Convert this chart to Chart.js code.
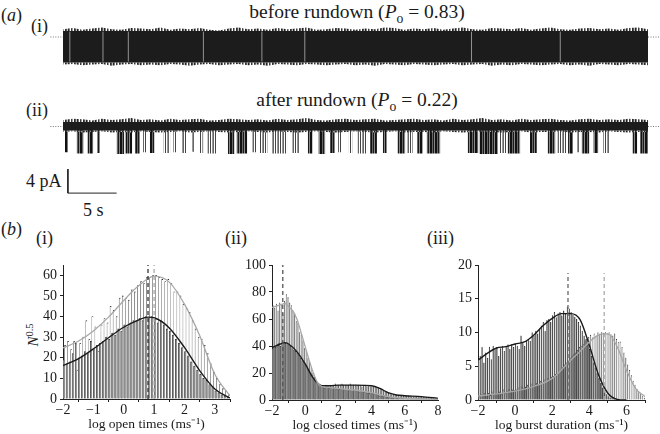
<!DOCTYPE html>
<html><head><meta charset="utf-8">
<script src="https://cdn.jsdelivr.net/npm/chart.js@4.4.0/dist/chart.umd.min.js"></script>
<style>
body{margin:0;width:660px;height:434px;position:relative;background:#fff;font-family:"Liberation Serif","Times New Roman",serif;overflow:hidden}
.t{position:absolute;white-space:nowrap;color:#1a1a1a;line-height:1}
canvas{position:absolute}
sub{font-size:70%;vertical-align:-0.35em}
sup{font-size:70%;vertical-align:0.45em}
</style></head><body>
<div class="t" style="left:1px;top:6px;font-size:18px">(<i>a</i>)</div>
<div class="t" style="left:31px;top:17px;font-size:18px">(i)</div>
<div class="t" style="left:357px;top:2px;font-size:19.5px;transform:translateX(-50%)">before rundown (<i>P</i><sub>o</sub> = 0.83)</div>
<div class="t" style="left:26px;top:101px;font-size:18px">(ii)</div>
<div class="t" style="left:357px;top:90px;font-size:19.5px;transform:translateX(-50%)">after rundown (<i>P</i><sub>o</sub> = 0.22)</div>
<div class="t" style="left:26px;top:172px;font-size:18px">4 pA</div>
<div class="t" style="left:83px;top:201px;font-size:18px">5 s</div>
<div class="t" style="left:1px;top:220px;font-size:18px">(<i>b</i>)</div>
<div class="t" style="left:36px;top:229px;font-size:18px">(i)</div>
<div class="t" style="left:225px;top:229px;font-size:18px">(ii)</div>
<div class="t" style="left:427px;top:229px;font-size:18px">(iii)</div>
<div class="t" style="left:33px;top:335px;font-size:15px;transform:translate(-50%,-50%) rotate(-90deg)"><i>N</i><sup>0.5</sup></div>

<canvas id="trace1"></canvas>
<canvas id="trace2"></canvas>
<canvas id="h1"></canvas>
<canvas id="h2"></canvas>
<canvas id="h3"></canvas>

<script>
// ---------------- DATA ----------------
// (a) current traces: noise envelope sampled every second (s), current in pA
const traceSampleStep = 1;
const traceICoreTop = 1.0, traceICoreBottom = -4.25;
const traceIUpper = [1.3,1.5,1.2,1.4,1.6,1.3,1.2,1.5,1.4,1.3,1.6,1.2,1.4,1.3,1.5,1.2,1.1,1.4,1.6,1.3,1.4,1.2,1.5,1.3,1.4,1.6,1.2,1.3,1.5,1.4,1.2,1.4,1.3,1.6,1.5,1.2,1.4,1.3,1.5,1.2,1.4,1.6,1.3,1.2,1.5,1.4,1.3,1.5,1.2,1.4,1.6,1.3,1.2,1.4,1.5,1.3,1.4,1.2,1.5,1.6,1.3];
const traceILower = [-4.6,-4.5,-4.7,-4.6,-4.5,-4.8,-4.6,-4.5,-4.7,-4.6,-4.7,-4.5,-4.6,-4.8,-4.6,-4.5,-4.7,-4.6,-4.5,-4.7,-4.6,-4.8,-4.5,-4.6,-4.7,-4.5,-4.6,-4.7,-4.6,-4.5,-4.7,-4.6,-4.8,-4.5,-4.6,-4.7,-4.5,-4.6,-4.7,-4.6,-4.5,-4.7,-4.6,-4.5,-4.8,-4.6,-4.7,-4.5,-4.6,-4.7,-4.6,-4.5,-4.7,-4.6,-4.8,-4.5,-4.6,-4.7,-4.5,-4.6,-4.7];
const traceIBriefClosures = [0.7,4.1,6.7,14.4,20.4,24.8,41.9,51.0];
const traceIICoreTop = 0.75, traceIICoreBottom = -0.65;
const traceIIUpper = [1.1,1.3,1.2,1.0,1.3,1.1,1.2,1.4,1.1,1.2,1.0,1.3,1.1,1.2,1.3,1.0,1.1,1.3,1.2,1.1,1.2,1.0,1.3,1.1,1.2,1.4,1.1,1.0,1.2,1.3,1.1,1.2,1.3,1.0,1.1,1.2,1.3,1.1,1.2,1.0,1.3,1.1,1.2,1.4,1.1,1.2,1.0,1.3,1.1,1.2,1.3,1.1,1.0,1.2,1.3,1.1,1.2,1.1,1.3,1.2,1.1];
const traceIILower = [-0.9,-0.8,-1.0,-0.9,-0.8,-1.0,-0.9,-1.0,-0.8,-0.9,-1.0,-0.9,-0.8,-1.0,-0.9,-0.8,-0.9,-1.0,-0.9,-0.8,-0.9,-1.0,-0.8,-0.9,-1.0,-0.9,-0.8,-0.9,-1.0,-0.9,-0.8,-0.9,-1.0,-0.9,-0.8,-1.0,-0.9,-0.9,-1.0,-0.8,-0.9,-1.0,-0.9,-0.8,-0.9,-1.0,-0.9,-0.8,-1.0,-0.9,-0.9,-0.8,-1.0,-0.9,-0.9,-1.0,-0.8,-0.9,-1.0,-0.9,-0.9];
// bursts of openings after rundown (s)
const burstStart = [0.2,1.4,2.5,3.5,5.5,6.4,7.4,8.2,8.9,10.3,11.3,12.2,13.2,14.0,14.8,16.9,17.8,19.4,20.2,21.4,23.5,25.1,26.2,27.4,28.2,29.3,30.2,31.5,32.8,34.3,35.3,36.3,37.3,41.5,42.7,44.8,45.6,47.9,49.7,50.7,51.8,52.7,53.2,54.4,55.4,58.4,59.2];
const burstEnd   = [0.5,2.1,3.1,3.8,6.3,7.1,7.9,8.6,9.4,11.0,11.7,12.7,13.5,14.4,15.8,17.6,18.9,19.9,21.0,23.0,24.3,25.6,26.9,27.9,28.6,29.7,31.2,32.2,33.2,35.1,35.9,36.9,38.7,42.6,44.6,45.5,46.9,48.6,50.5,51.7,52.3,53.0,54.0,54.9,56.1,58.9,60.0];
const burstDepth = [-4.3,-4.5,-4.5,-4.4,-4.6,-4.5,-4.5,-4.3,-4.4,-4.4,-4.3,-4.4,-4.2,-4.4,-4.5,-4.6,-4.5,-4.3,-4.4,-4.5,-4.4,-4.5,-4.6,-4.4,-4.3,-4.4,-4.5,-4.5,-4.4,-4.5,-4.4,-4.5,-4.5,-4.4,-4.6,-4.4,-4.5,-4.4,-4.5,-4.4,-4.5,-4.3,-4.5,-4.4,-4.4,-4.5,-4.5];
const burstDense = [1,1,1,1,1,1,1,0,1,0,0,0,0,0,0,1,1,0,0,0,0,1,1,1,0,0,0,1,1,1,0,1,1,1,1,0,1,1,1,0,1,0,1,1,0,1,1];
const scaleBarSeconds = 5, scaleBarPA = 4;

// (b)(i) log open times, bins of 0.1 from -2
const openBinStart = -2, openBinWidth = 0.1;
const openBefore = [26,28,24,28,14,27,30,38,29,40,35,23,36,39,37,45,43,40,49,50,49,48,53,52,55,57,56,59,59,60,60,59,58,57,58,56,52,52,50,46,44,42,38,34,30,29,26,22,17,13,10,7,5,4,2];
const openAfter  = [19,17,18,22,27,20,21,23,22,28,24,26,27,28,30,29,32,31,34,33,36,35,37,38,38,39,38,40,39,40,39,37,38,36,34,33,31,29,27,25,23,21,18,16,14,12,10,9,7,6,4,3,2,1.5,1];
const openBeforeFitX = [-2,-1.5,-1,-0.5,0,0.5,1,1.5,2,2.5,3,3.5];
const openBeforeFitY = [24.8,28,33,39.7,47.8,55,59.6,56.7,46,30.8,12,1.5];
const openAfterFitX = [-2,-1.5,-1,-0.5,0,0.5,0.8,1,1.5,2,2.5,3,3.5];
const openAfterFitY = [16.2,19.5,24.3,29.7,34.8,38.4,39.7,39.4,34.5,25,13.8,4.9,0.5];
const openPeakAfter = 0.8, openPeakBefore = 1.0;

// (b)(ii) log closed times
const closedBinStart = -2, closedBinWidth = 0.1;
const closedBefore = [70,68,71,66,72,70,64,73,78,76,72,70,66,64,58,57,50,48,44,38,36,31,28,24,20,17,14,12,10,10,
  10,9,10,9,9,9,8,9,8,8,8,8,8,7,8,7,7,8,7,7,7,7,6,7,6,6,6,5,5,5,5,4,4,4,3,3,3,3,2,2,2,2,2,2,2,1.5,1.5,1.5,1.5,1,
  1,1,1,1,1,1,1,1,1,1,0.5,1,0.5,0.5,1,0.5,0.5,0.5,0.5,0.5];
const closedAfter = [38,40,39,41,42,40,43,42,42,41,41,40,38,37,36,35,33,31,29,28,26,24,22,20,18,16,14,13,12,11,
  11,10,11,11,10,11,11,11,12,11,11,11,12,11,11,11,11,12,11,11,11,11,11,11,10,11,11,10,10,10,10,10,10,9,9,8,8,7,6,6,5,5,4,4,4,3.5,3.5,3,3,3,
  3,3,3,3,2.5,2.5,2.5,2.5,2.5,2.5,2.5,2,2,2,2,2,1.5,1.5,1.5,1];
const closedBeforeFitX = [-2,-1.5,-1.2,-1,-0.75,-0.5,-0.25,0,0.25,0.5,0.75,1,1.5,2,3,4,4.5,5,6,7,8];
const closedBeforeFitY = [68.6,70.5,71.5,69,66,60,50,39.5,29,19.8,12.5,10,9.2,8.4,7.4,5.5,4,2.5,1.3,0.8,0.5];
const closedAfterFitX = [-2,-1.5,-1.25,-1,-0.5,0,0.5,1,1.5,2,3,4,4.5,5,5.5,6,7,8];
const closedAfterFitY = [38.8,41.5,42.5,41.5,35.8,26.7,16,10.6,10.6,11,11,10.6,8.6,5.4,3.7,3.2,2.5,1.2];
const closedPeak = -1.35;

// (b)(iii) log burst duration
const burstBinStart = -2, burstBinWidth = 0.1;
const burstAfter = [6,6.5,7.8,5.5,7,6.2,7.8,6,8,7.5, 7.8,6.5,7.6,8,7.2,7.8,8.2,7.5,8.2,7.8, 8.3,8,7.5,9.5,8.4,8,8.8,9,8.7,10,
  9.5,10.2,9.8,10.5,11,11.5,10.2,11.8,12,11.5, 12.5,13,12.2,12.8,13,12.5,13.2,12.8,13.8,13.5, 13,12.6,12.3,12,11.5,11,10.2,9.5,9,8.2,
  7.5,6.5,5.5,4.8,4,3.2,2.5,1.8,1.2,0.8, 0.5,0.3,0.2,0.1,0,0,0,0,0,0, 0,0,0,0,0,0,0,0,0,0];
const burstBefore = [0.5,0.8,0.6,1,0.5,1,0.7,1.2,0.8,1, 1,1.2,0.8,1.5,1,1.3,1.6,1.2,1.5,1.4, 1.5,1.8,1.4,2,1.7,1.9,2.2,1.8,2.4,2.1,
  2.2,2.5,2.3,2.8,2.5,3,2.7,3.2,3,3.4, 3.5,3.8,4,4.2,4.5,4.8,5.2,5.5,5.8,6.2, 6.5,6.8,7,7.4,7.8,8,8.3,8.7,9,9.3,
  9.6,9.2,9.8,9.5,10,9.8,10,9.9,10,9.8, 10,9.7,9.5,9.8,9,8.5,8.6,7.8,7,6.2, 5.2,4.4,3.6,2.8,2.2,1.6,1.1,0.8,0.5,0.3];
const burstAfterFitX = [-2,-1.5,-1,-0.5,0,0.5,1,1.5,2,2.5,3,3.5,4,4.5,5,5.5,6];
const burstAfterFitY = [5.9,6.9,7.7,7.9,8.3,8.6,9.6,11,12.1,12.8,12.8,11.9,8.1,3.7,1,0.1,0];
const burstBeforeFitX = [-2,-1,0,1,2,3,3.5,4,4.5,4.8,5,5.5,6,6.5,7];
const burstBeforeFitY = [0.6,0.9,1.3,2,3.2,5.9,7.2,8.6,9.6,9.8,9.8,7.9,4.4,1.7,0.5];
const burstPeakAfter = 2.85, burstPeakBefore = 4.8;

// ---------------- RENDERING ----------------
Chart.defaults.font.family = '"Liberation Serif","Times New Roman",serif';
Chart.defaults.color = '#1a1a1a';

function stripes(cols){
  const c = document.createElement('canvas'); c.width = cols.length; c.height = 4;
  const g = c.getContext('2d');
  cols.forEach((col,i)=>{ if(col){ g.fillStyle = col; g.fillRect(i,0,1,4);} });
  return g.createPattern(c,'repeat');
}
function place(id, left, top, w, h){
  const cv = document.getElementById(id);
  cv.width = w; cv.height = h; cv.style.left = left+'px'; cv.style.top = top+'px';
  return cv;
}
const pts = (xs, ys) => xs.map((x,i)=>({x, y: ys[i]}));
const series = (arr, step, start=0) => arr.map((y,i)=>({x: start + i*step, y}));
const binned = (arr, start, w) => arr.map((y,i)=>({x: start + w*(i+0.5), y}));
const flat = (y) => [{x:0,y},{x:60,y}];
const baseOpts = {responsive:false, animation:false, devicePixelRatio:1, events:[],
  plugins:{legend:{display:false}, tooltip:{enabled:false}}};

// trace geometry: 9.75 px per second, 6 px per pA
const PXS = 9.75, PXA = 6, T0 = 63;
function traceChart(id, top, height, baseY, datasets){
  const left = 50, w = 610;
  place(id, left, top, w, height);
  return new Chart(document.getElementById(id), {
    type:'line', data:{datasets},
    options:Object.assign({}, baseOpts, {
      layout:{padding:0},
      elements:{point:{radius:0}, line:{tension:0}},
      scales:{
        x:{type:'linear', display:false, min:(left-T0)/PXS, max:(left+w-T0)/PXS},
        y:{type:'linear', display:false, max:(baseY-top)/PXA, min:-(top+height-baseY)/PXA}
      }
    })
  });
}
const dotted = [{x:-1.3,y:0},{x:0,y:0},{x:0,y:null},{x:60,y:0},{x:61.3,y:0}];
const dottedDs = {data:dotted, borderColor:'#777', borderWidth:1, borderDash:[1,1.5], fill:false, order:0};
const fringe = () => stripes(['#222','#777','','#3a3a3a','#999','','#2a2a2a','#555','#bbb']);
const noEdge = {borderWidth:0, borderColor:'rgba(0,0,0,0)'};

// trace (i)
const closureLines = [];
traceIBriefClosures.forEach(t=>closureLines.push({x:t,y:-4.1},{x:t,y:0.9},{x:t,y:null}));
traceChart('trace1', 27, 40, 37, [
  {data:closureLines, borderColor:'rgba(160,160,160,0.9)', borderWidth:1, fill:false, order:1},
  Object.assign({data:flat(traceICoreTop), fill:{value:traceICoreBottom}, backgroundColor:'#1c1c1c', order:2}, noEdge),
  Object.assign({data:series(traceIUpper, traceSampleStep), fill:{value:traceICoreTop}, backgroundColor:fringe(), order:3}, noEdge),
  Object.assign({data:series(traceILower, traceSampleStep), fill:{value:traceICoreBottom}, backgroundColor:fringe(), order:3}, noEdge),
  dottedDs
]);

// trace (ii)
function burstPoly(dense){
  const p = [];
  burstStart.forEach((s,i)=>{
    if(burstDense[i]!==dense) return;
    const e = burstEnd[i], d = burstDepth[i];
    p.push({x:s,y:-0.5},{x:s,y:d},{x:e,y:d},{x:e,y:-0.5},{x:e,y:null});
  });
  return p;
}
const sbT = 0.5, sbY = -11.1;
traceChart('trace2', 116, 84, 126.5, [
  dottedDs,
  Object.assign({data:flat(traceIICoreTop), fill:{value:traceIICoreBottom}, backgroundColor:'#1c1c1c', order:1}, noEdge),
  Object.assign({data:series(traceIIUpper, traceSampleStep), fill:{value:traceIICoreTop}, backgroundColor:fringe(), order:2}, noEdge),
  Object.assign({data:series(traceIILower, traceSampleStep), fill:{value:traceIICoreBottom}, backgroundColor:fringe(), order:2}, noEdge),
  Object.assign({data:burstPoly(1), fill:{value:-0.5}, backgroundColor:stripes(['#111','#111','#666','#1a1a1a','#888']), order:3}, noEdge),
  Object.assign({data:burstPoly(0), fill:{value:-0.5}, backgroundColor:stripes(['#444','','#999','#666','']), order:4}, noEdge),
  {data:[{x:sbT,y:sbY+scaleBarPA},{x:sbT,y:sbY},{x:sbT+scaleBarSeconds,y:sbY}], borderColor:'#222', borderWidth:1, fill:false, order:0}
]);

// histograms
const fmt = v => (v<0 ? '\u2212'+Math.abs(v) : ''+v);
function hist(id, area, c){
  const padL = 48, padR = 12, padT = 12, padB = 34;
  place(id, area.l-padL, area.t-padT, area.r-area.l+padL+padR, area.b-area.t+padT+padB);
  const axisCommon = {
    border:{display:true, color:'#222', width:1},
    grid:{display:true, drawOnChartArea:false, drawTicks:true, tickLength:3, color:'#222'}
  };
  const bw = {top:0.8, left:0.5, right:0, bottom:0};
  const datasets = [
    {type:'bar', data:c.after, backgroundColor:c.afterColor, borderColor:'#2a2a2a', borderWidth:bw,
     barPercentage:1, categoryPercentage:1, order:2},
    {type:'bar', data:c.before, backgroundColor:c.beforeColor, borderColor:'#2a2a2a', borderWidth:bw,
     barPercentage:1, categoryPercentage:1, order:2},
    {type:'line', data:c.beforeFit, borderColor:'#a8a8a8', borderWidth:1.3, pointRadius:0, cubicInterpolationMode:'monotone', fill:false, order:1},
    {type:'line', data:c.afterFit, borderColor:'#1a1a1a', borderWidth:1.4, pointRadius:0, cubicInterpolationMode:'monotone', fill:false, order:1}
  ];
  c.dashes.forEach(d=>datasets.push({type:'line', data:[{x:d.x,y:0},{x:d.x,y:d.top}], borderColor:d.color, borderWidth:1.3,
    borderDash:[4,3], pointRadius:0, fill:false, order:0}));
  return new Chart(document.getElementById(id), {
    type:'bar', data:{datasets},
    options:Object.assign({}, baseOpts, {
      layout:{padding:{top:padT, right:padR, left:0, bottom:0}},
      scales:{
        x:Object.assign({}, axisCommon, {type:'linear', offset:false, min:c.xmin, max:c.xmax,
          afterFit(s){s.height = padB;},
          ticks:{stepSize:c.xstep, includeBounds:false, maxRotation:0, padding:0, font:{size:14}, color:'#1a1a1a', callback:fmt},
          title:{display:true, text:c.title, font:{size:13.5}, color:'#1a1a1a', padding:{top:0,bottom:0}}}),
        y:Object.assign({}, axisCommon, {type:'linear', min:0, max:c.ymax,
          afterFit(s){s.width = padL;},
          ticks:{stepSize:c.ystep, includeBounds:false, padding:3, font:{size:14}, color:'#1a1a1a', callback:fmt}})
      }
    })
  });
}

hist('h1', {l:63, r:230, t:265, b:399}, {
  after:binned(openAfter, openBinStart, openBinWidth), before:binned(openBefore, openBinStart, openBinWidth),
  afterColor:'#8c8c8c', beforeColor:'#ffffff',
  beforeFit:pts(openBeforeFitX, openBeforeFitY), afterFit:pts(openAfterFitX, openAfterFitY),
  dashes:[{x:openPeakAfter, top:65, color:'#333'}, {x:openPeakBefore, top:65, color:'#aaa'}],
  xmin:-2, xmax:3.5, xstep:1, ymax:65, ystep:10, title:'log open times (ms\u207B\u00B9)'
});
hist('h2', {l:272, r:438, t:265, b:400}, {
  after:binned(closedAfter, closedBinStart, closedBinWidth), before:binned(closedBefore, closedBinStart, closedBinWidth),
  afterColor:'#8a8a8a', beforeColor:'#c4c4c4',
  beforeFit:pts(closedBeforeFitX, closedBeforeFitY), afterFit:pts(closedAfterFitX, closedAfterFitY),
  dashes:[{x:closedPeak, top:100, color:'#555'}],
  xmin:-2, xmax:8, xstep:2, ymax:100, ystep:20, title:'log closed times (ms\u207B\u00B9)'
});
hist('h3', {l:477.5, r:645, t:265, b:400}, {
  after:binned(burstAfter, burstBinStart, burstBinWidth), before:binned(burstBefore, burstBinStart, burstBinWidth),
  afterColor:'#666666', beforeColor:'#e6e6e6',
  beforeFit:pts(burstBeforeFitX, burstBeforeFitY), afterFit:pts(burstAfterFitX, burstAfterFitY),
  dashes:[{x:burstPeakAfter, top:18.8, color:'#666'}, {x:burstPeakBefore, top:18.8, color:'#aaa'}],
  xmin:-2, xmax:7, xstep:2, ymax:20, ystep:5, title:'log burst duration (ms\u207B\u00B9)'
});
</script>
</body></html>
